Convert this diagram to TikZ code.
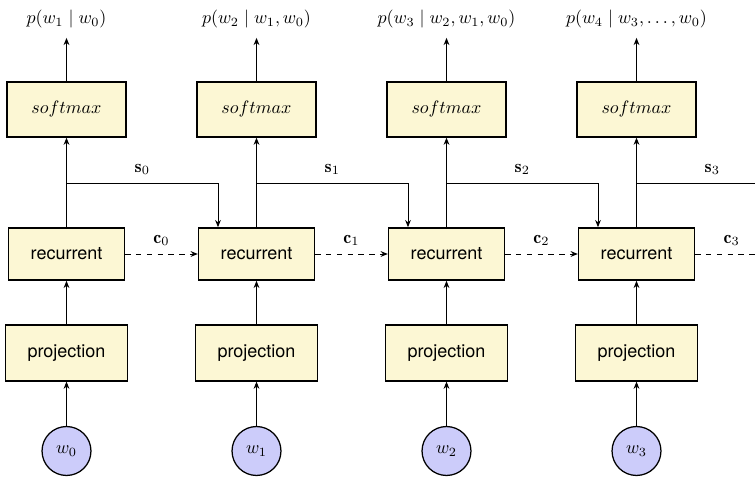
\documentclass[tikz,border=0pt]{standalone}
\usepackage{fontspec}
\setsansfont{TeX Gyre Heros}
\usetikzlibrary{arrows.meta}
\definecolor{boxfill}{RGB}{252,247,212}
\definecolor{circfill}{RGB}{204,204,250}
\begin{document}
\begin{tikzpicture}[x=0.5556pt,y=-0.5556pt,
  blk/.style={draw, line width=0.8pt, fill=boxfill, inner sep=0pt, font=\sffamily},
  smbox/.style={blk, minimum width=66pt, minimum height=30.5pt},
  recbox/.style={blk, minimum width=64.4pt, minimum height=29pt},
  projbox/.style={blk, minimum width=67.8pt, minimum height=31pt},
  word/.style={circle, draw, line width=0.7pt, fill=circfill, minimum size=27.2pt, inner sep=0pt},
  outlbl/.style={inner sep=0pt, outer sep=5.5pt},
  conn/.style={line width=0.5pt, -{Stealth[length=4pt,width=3.2pt]}},
  dconn/.style={conn, dashed},
  lbl/.style={above, inner sep=4.3pt},
]
\useasboundingbox (0,0) rectangle (755,477);
\clip (0,0) rectangle (755,477);

\foreach \i/\lab in {0/{p(w_1\mid w_0)}, 1/{p(w_2\mid w_1,w_0)}, 2/{p(w_3\mid w_2,w_1,w_0)}, 3/{p(w_4\mid w_3,\ldots,w_0)}} {
  \pgfmathsetmacro\cx{66.5+190*\i}
  \node[outlbl] (o\i) at (\cx,19) {$\lab$};
  \node[smbox] (sm\i) at (\cx,109.5) {$softmax$};
  \node[recbox] (r\i) at (\cx,254) {recurrent};
  \node[projbox] (pr\i) at (\cx,353) {projection};
  \node[word] (w\i) at (\cx,451) {$w_{\i}$};
  \coordinate (b\i) at (\cx,183);
}
\foreach \j in {1,2,3} {
  \coordinate (in\j) at (r\j.west);
  \coordinate (top\j) at ([xshift=-21.4pt]r\j.north);
}
\coordinate (in4) at (768,254);
\coordinate (top4) at (788,228);

\foreach \i in {0,1,2,3} {
  \pgfmathtruncatemacro\j{\i+1}
  \draw[conn] (w\i) -- (pr\i);
  \draw[conn] (pr\i) -- (r\i);
  \draw[conn] (r\i) -- (sm\i);
  \draw[conn] (sm\i) -- (o\i);
  \draw[conn] (b\i) -| node[pos=0.25, lbl] {$\mathbf{s}_{\i}$} (top\j);
  \draw[dconn] (r\i.east) -- node[lbl] {$\mathbf{c}_{\i}$} (in\j);
}
\end{tikzpicture}
\end{document}
